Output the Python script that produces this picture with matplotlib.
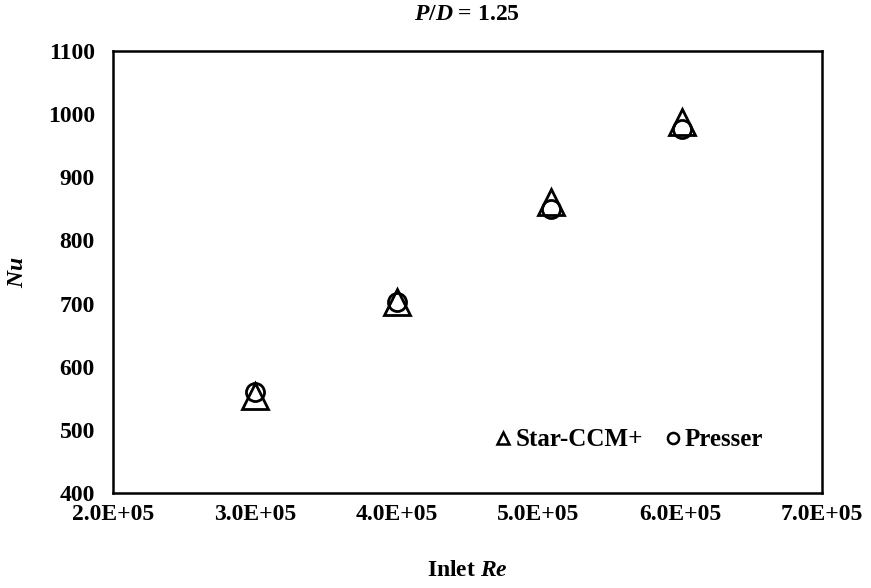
import matplotlib.pyplot as plt
from matplotlib.lines import Line2D
from matplotlib.ticker import FuncFormatter

plt.rcParams["font.family"] = ["Liberation Serif", "DejaVu Serif"]
plt.rcParams["font.weight"] = "bold"
plt.rcParams["mathtext.fontset"] = "custom"
plt.rcParams["mathtext.it"] = "Liberation Serif:italic:bold"
plt.rcParams["mathtext.rm"] = "Liberation Serif:bold"

# inlet Reynolds number and Nusselt number
inlet_re = [3.0e5, 4.0e5, 5.09e5, 6.01e5]
nu_star_ccm = [554, 702, 861, 988]
nu_presser = [560, 703, 850, 976]

x_ticks = [2e5, 3e5, 4e5, 5e5, 6e5, 7e5]
y_ticks = [400, 500, 600, 700, 800, 900, 1000, 1100]

fig = plt.figure(figsize=(8.71, 5.88), dpi=100)
ax = fig.add_axes([113 / 871, 1 - 493 / 588, 709 / 871, 442 / 588])

ax.plot(inlet_re, nu_star_ccm, linestyle="none", marker="^", markersize=19,
        markerfacecolor="none", markeredgecolor="black", markeredgewidth=2,
        label="Star-CCM+")
ax.plot(inlet_re, nu_presser, linestyle="none", marker="o", markersize=13,
        markerfacecolor="none", markeredgecolor="black", markeredgewidth=2,
        label="Presser")

ax.set_xlim(2e5, 7e5)
ax.set_ylim(400, 1100)
ax.set_xticks(x_ticks)
ax.set_yticks(y_ticks)
ax.xaxis.set_major_formatter(FuncFormatter(lambda v, p: f"{v:.1E}"))
ax.tick_params(length=0, labelsize=17)
ax.tick_params(axis="x", pad=8)
ax.tick_params(axis="y", pad=13)
for sp in ax.spines.values():
    sp.set_linewidth(1.8)

fig.text(467 / 871, 1 - 15 / 588, "$\\mathit{P/D}$ = 1.25", fontsize=17,
         fontweight="bold", ha="center", va="center")
ax.set_xlabel("Inlet $\\mathit{Re}$", fontsize=17, fontweight="bold")
ax.set_ylabel("$\\mathit{Nu}$", fontsize=17, fontweight="bold")
ax.xaxis.set_label_coords(0.5, (493 - 570) / 442)
ax.yaxis.set_label_coords((18 - 113) / 709, 0.5)
ax.xaxis.label.set_va("center")
ax.yaxis.label.set_va("center")

handles = [
    Line2D([], [], linestyle="none", marker="^", markersize=9, markerfacecolor="none",
           markeredgecolor="black", markeredgewidth=1.8),
    Line2D([], [], linestyle="none", marker="o", markersize=8, markerfacecolor="none",
           markeredgecolor="black", markeredgewidth=1.8),
]
ax.legend(handles, ["Star-CCM+", "Presser"], loc="center right",
          bbox_to_anchor=(0.935, 0.12), ncol=2, frameon=False, borderpad=0,
          handlelength=0.6, handletextpad=0.2, columnspacing=0.9,
          prop={"weight": "bold", "size": 18})

fig.savefig("out.png", dpi=100)
